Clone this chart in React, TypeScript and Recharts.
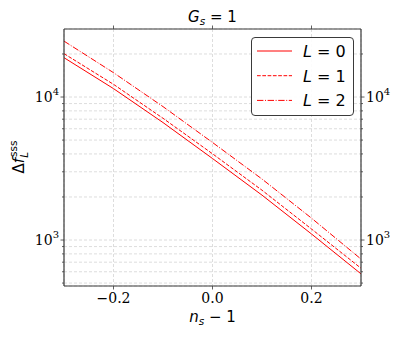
import React from 'react';
import { LineChart, Line, XAxis, YAxis, CartesianGrid } from 'recharts';

const nsMinus1 = [-0.3, -0.2, -0.1, 0, 0.1, 0.2, 0.3];
const deltaL0 = [18840, 11450, 6630, 3715, 2060, 1102, 580];
const deltaL1 = [20100, 12270, 7100, 4010, 2230, 1194, 635];
const deltaL2 = [24600, 14800, 8570, 4810, 2670, 1422, 736];

const xTicks = [-0.2, 0, 0.2];
const yTicks = [500, 600, 700, 800, 900, 1000, 2000, 3000, 4000, 5000, 6000, 7000, 8000, 9000, 10000, 20000];
const yDomain = [477, 29900];

const data = nsMinus1.map((x, i) => ({ x, l0: deltaL0[i], l1: deltaL1[i], l2: deltaL2[i] }));

const RED = '#ff0000';
const FRAME = '#3a3a3a';
const SERIF = '"DejaVu Serif", serif';
const SANS = '"DejaVu Sans", sans-serif';

const isMajor = (v: number) => Math.abs(Math.log10(v) - Math.round(Math.log10(v))) < 1e-9;

const YTick = ({ x, y, payload, side }: any) => {
  const v = payload.value;
  const major = isMajor(v);
  const len = major ? 3.5 : 2;
  const dir = side === 'left' ? -1 : 1;
  return (
    <g>
      <line x1={x} x2={x + dir * len} y1={y} y2={y} stroke={FRAME} strokeWidth={0.8} />
      {major && (
        <text
          x={x + dir * 5}
          y={y + 5}
          textAnchor={side === 'left' ? 'end' : 'start'}
          fontFamily={SERIF}
          fontSize={14}
          fill="#000"
        >
          <tspan>10</tspan>
          <tspan dy={-7} fontSize={10}>{Math.round(Math.log10(v))}</tspan>
        </text>
      )}
    </g>
  );
};

const fmtX = (v: number) => (v < 0 ? '\u2212' : '') + Math.abs(v).toFixed(1);

const XTick = ({ x, y, payload, side }: any) => {
  const dir = side === 'bottom' ? 1 : -1;
  return (
    <g>
      <line x1={x} x2={x} y1={y} y2={y + dir * 3.5} stroke={FRAME} strokeWidth={0.8} />
      {side === 'bottom' && (
        <text x={x} y={y + 16.5} textAnchor="middle" fontFamily={SERIF} fontSize={14} fill="#000">
          {fmtX(payload.value)}
        </text>
      )}
    </g>
  );
};

const legendItems = [
  { label: '0', dash: undefined },
  { label: '1', dash: '3.7 1.6' },
  { label: '2', dash: '6.4 1.6 1 1.6' },
];

const LegendBox = () => (
  <div
    style={{
      position: 'absolute',
      left: 251,
      top: 37,
      width: 101,
      height: 77,
      border: `1px solid ${FRAME}`,
      borderRadius: 4,
      background: 'rgba(255,255,255,0.9)',
    }}
  >
    <svg width={101} height={77} style={{ display: 'block' }}>
      {legendItems.map((it, i) => {
        const cy = 13 + i * 24.7;
        return (
          <g key={it.label}>
            <line x1={5} x2={40} y1={cy} y2={cy} stroke={RED} strokeWidth={1} strokeDasharray={it.dash} />
            <text x={51} y={cy + 6} fontFamily={SANS} fontSize={16} fill="#000">
              <tspan fontStyle="italic">L</tspan>
              <tspan> = {it.label}</tspan>
            </text>
          </g>
        );
      })}
    </svg>
  </div>
);

export default function App() {
  return (
    <div style={{ position: 'absolute', left: 0, top: 0, width: 405, height: 337, background: '#fff' }}>
      <LineChart width={405} height={337} data={data} margin={{ top: 24, right: 0, bottom: 0, left: 0 }}>
        <CartesianGrid stroke="#d4d4d4" strokeDasharray="3 2" strokeWidth={0.8} />
        <XAxis
          xAxisId={0}
          dataKey="x"
          type="number"
          domain={[-0.3, 0.3]}
          ticks={xTicks}
          height={51}
          tickSize={0}
          tickMargin={0}
          tickLine={false}
          axisLine={{ stroke: FRAME, strokeWidth: 1.2 }}
          tick={(p: any) => <XTick {...p} side="bottom" />}
          allowDataOverflow
        />
        <XAxis
          xAxisId="top"
          orientation="top"
          dataKey="x"
          type="number"
          domain={[-0.3, 0.3]}
          ticks={xTicks}
          height={5}
          tickSize={0}
          tickMargin={0}
          tickLine={false}
          axisLine={{ stroke: FRAME, strokeWidth: 1.2 }}
          tick={(p: any) => <XTick {...p} side="top" />}
          allowDataOverflow
        />
        <YAxis
          yAxisId={0}
          scale="log"
          type="number"
          domain={yDomain}
          ticks={yTicks}
          width={64}
          tickSize={0}
          tickMargin={0}
          tickLine={false}
          axisLine={{ stroke: FRAME, strokeWidth: 1.2 }}
          tick={(p: any) => <YTick {...p} side="left" />}
          allowDataOverflow
          interval={0}
        />
        <YAxis
          yAxisId="right"
          orientation="right"
          scale="log"
          type="number"
          domain={yDomain}
          ticks={yTicks}
          width={44}
          tickSize={0}
          tickMargin={0}
          tickLine={false}
          axisLine={{ stroke: FRAME, strokeWidth: 1.2 }}
          tick={(p: any) => <YTick {...p} side="right" />}
          allowDataOverflow
          interval={0}
        />
        <Line dataKey="l0" xAxisId={0} yAxisId={0} stroke={RED} strokeWidth={1} dot={false} isAnimationActive={false} />
        <Line
          dataKey="l1"
          xAxisId="top"
          yAxisId={0}
          stroke={RED}
          strokeWidth={1}
          strokeDasharray="3.7 1.6"
          dot={false}
          isAnimationActive={false}
        />
        <Line
          dataKey="l2"
          xAxisId={0}
          yAxisId="right"
          stroke={RED}
          strokeWidth={1}
          strokeDasharray="6.4 1.6 1 1.6"
          dot={false}
          isAnimationActive={false}
        />
        <text x={212.5} y={22} textAnchor="middle" fontFamily={SANS} fontSize={15} fill="#000">
          <tspan fontStyle="italic">G</tspan>
          <tspan fontStyle="italic" fontSize={10.5} dy={3}>s</tspan>
          <tspan dy={-3}> = 1</tspan>
        </text>
        <text x={212.5} y={321.5} textAnchor="middle" fontFamily={SANS} fontSize={15} fill="#000">
          <tspan fontStyle="italic">n</tspan>
          <tspan fontStyle="italic" fontSize={10.5} dy={3}>s</tspan>
          <tspan dy={-3}> {'\u2212'} 1</tspan>
        </text>
        <text
          x={0}
          y={0}
          transform="translate(23.5,157) rotate(-90)"
          textAnchor="middle"
          fontFamily={SANS}
          fontSize={15}
          fill="#000"
        >
          <tspan>Δ</tspan>
          <tspan fontStyle="italic">f</tspan>
          <tspan fontStyle="italic" fontSize={10.5} dy={4}>L</tspan>
          <tspan fontSize={10.5} dy={-11} dx={-5}>sss</tspan>
        </text>
      </LineChart>
      <LegendBox />
    </div>
  );
}
